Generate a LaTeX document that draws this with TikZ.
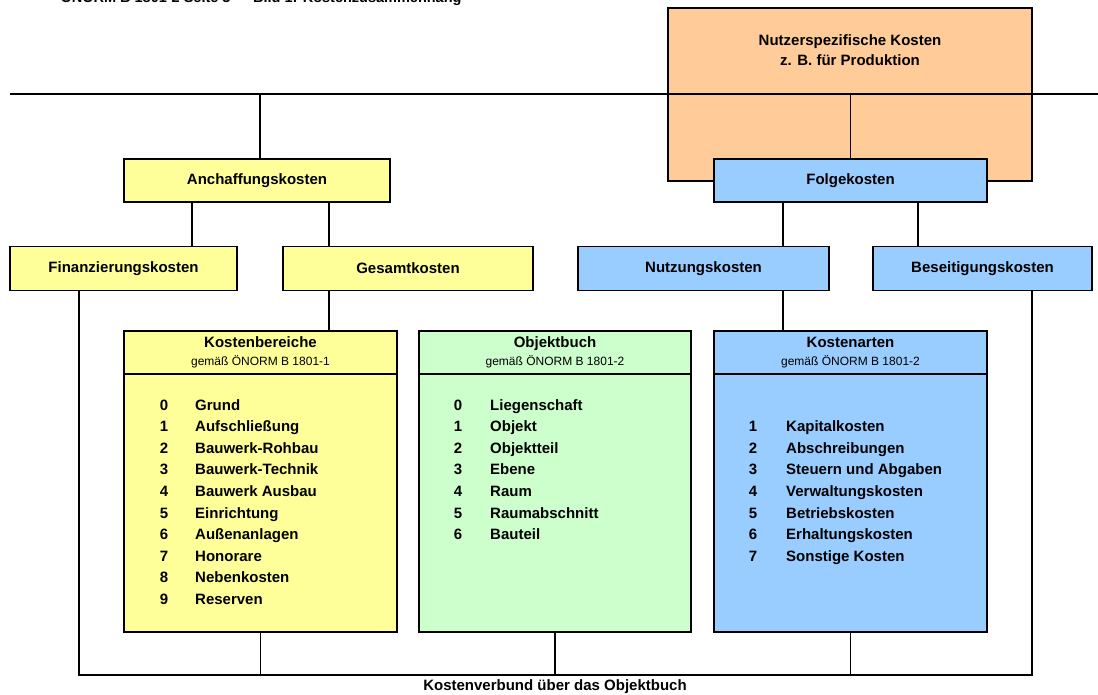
\documentclass[tikz,border=0pt]{standalone}
\usepackage{fontspec}
\setmainfont{Liberation Sans}
\definecolor{gelb}{HTML}{FFFF99}
\definecolor{gruen}{HTML}{CCFFCC}
\definecolor{blau}{HTML}{99CCFF}
\definecolor{orange}{HTML}{FFCC99}
\newcommand\gemfont{\mdseries\fontsize{12}{14}\selectfont}
\begin{document}
\begin{tikzpicture}[x=1pt, y=-1pt,
    font=\bfseries\fontsize{15}{18}\selectfont,
    box/.style={draw, line width=1.8pt, inner sep=0pt},
    thickline/.style={line width=2.2pt},
    link/.style={line width=1.4pt},
    num/.style={inner sep=0pt, text height=11pt, text depth=3pt},
    entry/.style={anchor=west, inner sep=0pt, text height=11pt, text depth=3pt}]
  \useasboundingbox (0,0) rectangle (1098,695);
  \node[anchor=base west, font=\bfseries\fontsize{14.5}{17}\selectfont] (caption) at (57,2.5)
    {ÖNORM B 1801-2 Seite 3 — Bild 1: Kostenzusammenhang};
  % obere Ebene
  \node[box, fill=orange, minimum width=364pt, minimum height=173pt] (nutzer) at (850,94.5) {};
  \node[align=center, font=\bfseries\fontsize{15}{20}\selectfont] (nutzertxt) at (850,50)
    {Nutzerspezifische Kosten\\z. B. für Produktion};
  \coordinate (hbL) at (10,94);
  \coordinate (hbR) at (1098,94);
  \draw[thickline] (hbL) -- (hbR);
  \node[box, fill=gelb, minimum width=266pt, minimum height=43pt] (anch) at (257,180.5) {Anchaffungskosten};
  \node[box, fill=blau, minimum width=273pt, minimum height=43pt] (folge) at (850.5,180.5) {Folgekosten};
  \draw[link] (hbL -| 260,0) -- (anch.north -| 260,0);
  \draw[link] (hbL -| folge.north) -- (folge.north);
  % zweite Ebene
  \node[box, fill=gelb, minimum width=227pt, minimum height=44pt] (fin) at (123.5,268.5) {Finanzierungskosten};
  \node[box, fill=gelb, minimum width=250pt, minimum height=44pt] (ges) at (408,268.5) {Gesamtkosten};
  \node[box, fill=blau, minimum width=251pt, minimum height=44pt] (nutz) at (703.5,268.5) {Nutzungskosten};
  \node[box, fill=blau, minimum width=219pt, minimum height=44pt] (bes) at (982.5,268.5) {Beseitigungskosten};
  \draw[link] (anch.south -| 192,0) -- (fin.north -| 192,0);
  \draw[link] (anch.south -| 329,0) -- (ges.north -| 329,0);
  \draw[link] (folge.south -| 783,0) -- (nutz.north -| 783,0);
  \draw[link] (folge.south -| 918,0) -- (bes.north -| 918,0);
  % Kataloge
  \node[box, fill=gelb, minimum width=273pt, minimum height=258pt] (kbBody) at (260.5,503) {};
  \node[box, fill=gelb, minimum width=273pt, minimum height=43pt, align=center] (kbHead) at (260.5,352.5)
    {Kostenbereiche\\{\gemfont gemäß ÖNORM B 1801-1}};
  \node[box, fill=gruen, minimum width=272pt, minimum height=258pt] (obBody) at (555,503) {};
  \node[box, fill=gruen, minimum width=272pt, minimum height=43pt, align=center] (obHead) at (555,352.5)
    {Objektbuch\\{\gemfont gemäß ÖNORM B 1801-2}};
  \node[box, fill=blau, minimum width=273pt, minimum height=258pt] (kaBody) at (850.5,503) {};
  \node[box, fill=blau, minimum width=273pt, minimum height=43pt, align=center] (kaHead) at (850.5,352.5)
    {Kostenarten\\{\gemfont gemäß ÖNORM B 1801-2}};
  \draw[link] (ges.south -| 329,0) -- (kbHead.north -| 329,0);
  \draw[link] (nutz.south -| 783,0) -- (kaHead.north -| 783,0);
  \foreach \n/\t [count=\i from 0] in {0/Grund, 1/Aufschließung, 2/Bauwerk-Rohbau,
      3/Bauwerk-Technik, 4/Bauwerk Ausbau, 5/Einrichtung, 6/Außenanlagen,
      7/Honorare, 8/Nebenkosten, 9/Reserven}{
    \node[num] (kbn\n) at (164,406+21.6*\i) {\n};
    \node[entry] (kbt\n) at (195,406+21.6*\i) {\t};
  }
  \foreach \n/\t in {0/Liegenschaft, 1/Objekt, 2/Objektteil, 3/Ebene,
      4/Raum, 5/Raumabschnitt, 6/Bauteil}{
    \node[num] (obn\n) at (458,406+21.6*\n) {\n};
    \node[entry] (obt\n) at (490,406+21.6*\n) {\t};
  }
  \foreach \n/\t in {1/Kapitalkosten, 2/Abschreibungen, 3/Steuern und Abgaben,
      4/Verwaltungskosten, 5/Betriebskosten, 6/Erhaltungskosten, 7/Sonstige Kosten}{
    \node[num] (kan\n) at (753,406+21.6*\n) {\n};
    \node[entry] (kat\n) at (786,406+21.6*\n) {\t};
  }
  % Kostenverbund
  \coordinate (vbL) at (79,675);
  \coordinate (vbR) at (1032,675);
  \draw[link] (kbBody.south) -- (kbBody.south |- vbL);
  \draw[link] (obBody.south) -- (obBody.south |- vbL);
  \draw[link] (kaBody.south) -- (kaBody.south |- vbL);
  \draw[thickline] (fin.south -| vbL) -- (vbL) -- (vbR) -- (bes.south -| vbR);
  \node (verbund) at (555,687) {Kostenverbund über das Objektbuch};
\end{tikzpicture}
\end{document}
